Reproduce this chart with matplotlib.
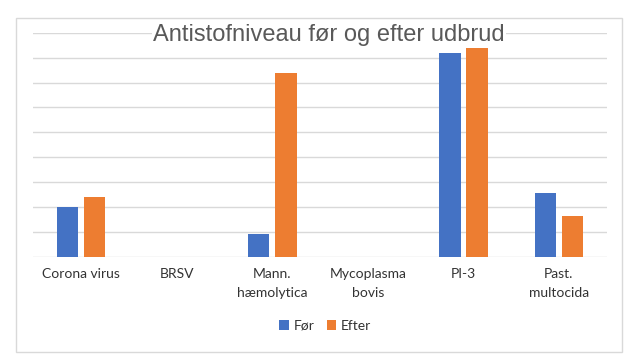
import matplotlib.pyplot as plt
import numpy as np
from matplotlib.patches import Rectangle

categories = ['Corona virus', 'BRSV', 'Mann.\nhæmolytica', 'Mycoplasma\nbovis', 'PI-3', 'Past.\nmultocida']
foer = [2.0, 0, 0.9, 0, 8.2, 2.55]
efter = [2.4, 0, 7.4, 0, 8.4, 1.63]

blue = '#4472C4'
orange = '#ED7D31'
grid_col = '#D9D9D9'

fig = plt.figure(figsize=(6.4, 3.64), dpi=100)
# outer chart frame
fig.patches.append(Rectangle((16 / 640, 1 - 352 / 364), 606 / 640, 334 / 364,
                             transform=fig.transFigure, fill=False,
                             edgecolor='#D9D9D9', linewidth=1))

ax = fig.add_axes([0.052, 0.295, 0.896, 0.615])
x = np.arange(len(categories))
w = 0.226
ax.bar(x - 0.142, foer, w, color=blue, label='Før', zorder=3)
ax.bar(x + 0.142, efter, w, color=orange, label='Efter', zorder=3)

ax.set_xlim(-0.5, len(categories) - 0.5)
ax.set_ylim(0, 9)
ax.set_yticks(np.arange(0, 10, 1))
ax.yaxis.grid(True, color=grid_col, linewidth=1, zorder=0)
ax.tick_params(axis='y', left=False, labelleft=False)
ax.tick_params(axis='x', length=0, pad=8)
ax.set_xticks(x)
ax.set_xticklabels(categories, family=['Lato', 'DejaVu Sans'], fontsize=10, color='#333333',
                   linespacing=1.75)
for s in ['top', 'right', 'left', 'bottom']:
    ax.spines[s].set_visible(False)

fig.text(0.514, 1 - 35 / 364, 'Antistofniveau før og efter udbrud', ha='center', va='center',
         fontsize=17, color='#595959', family='Liberation Sans',
         bbox=dict(facecolor='white', edgecolor='none', pad=1))

fig.legend(loc='center', bbox_to_anchor=(0.508, 1 - 326 / 364), ncol=2, frameon=False,
           handlelength=0.7, handleheight=0.7, handletextpad=0.3, columnspacing=0.9,
           prop={'family': 'Lato', 'size': 10}, labelcolor='#333333')

fig.savefig('out.png', dpi=100, facecolor='white')
